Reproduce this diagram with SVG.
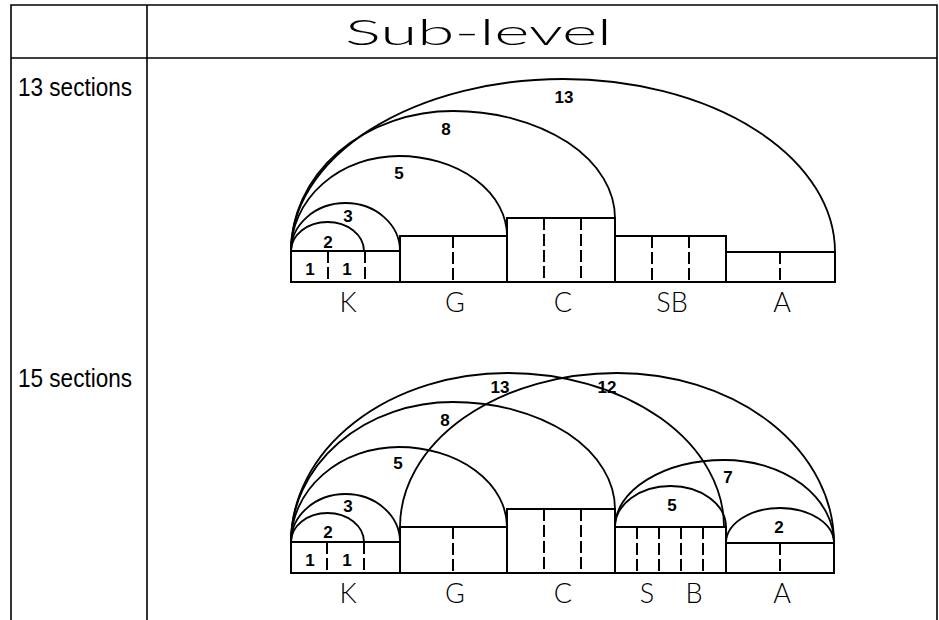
<svg xmlns="http://www.w3.org/2000/svg" width="939" height="620" viewBox="0 0 939 620">
<style>
.tbl{fill:none;stroke:#000;stroke-width:1.6}
.box{fill:none;stroke:#000;stroke-width:2}
.dv{fill:none;stroke:#000;stroke-width:2;stroke-dasharray:12 4}
.arc{fill:none;stroke:#000;stroke-width:1.8}
.num{font-family:"Liberation Sans Narrow","Liberation Sans",Arial,sans-serif;font-weight:bold;font-size:17px;text-anchor:middle;fill:#000}
.lbl{font-family:Lato,"Liberation Sans",sans-serif;font-weight:300;font-size:27px;text-anchor:middle;fill:#000}
.row{font-family:"Liberation Sans",Arial,sans-serif;font-size:25px;fill:#000}
.hdr{font-family:Lato,"Liberation Sans",sans-serif;font-weight:300;font-size:36px;fill:#000}
</style>
<rect width="939" height="620" fill="#fff"/>
<g id="table">
<path class="tbl" d="M11 620 V5 H937 V620 M147 5 V620 M11 58 H937"/>
<text class="hdr" x="345" y="45" textLength="267" lengthAdjust="spacingAndGlyphs">Sub-level</text>
<text class="row" x="18" y="96" textLength="114" lengthAdjust="spacingAndGlyphs">13 sections</text>
<text class="row" x="18" y="387" textLength="114" lengthAdjust="spacingAndGlyphs">15 sections</text>
</g>
<g id="top-boxes">
<g id="t-K"><rect class="box" x="291" y="251" width="109" height="31"/><path class="dv" d="M328 251 V282 M365 251 V282"/><text class="num" x="310" y="275">1</text><text class="num" x="347" y="275">1</text><text class="lbl" x="348" y="312">K</text></g>
<g id="t-G"><rect class="box" x="400" y="236" width="107" height="46"/><path class="dv" d="M453 236 V282"/><text class="lbl" x="455" y="312">G</text></g>
<g id="t-C"><rect class="box" x="507" y="218" width="108" height="64"/><path class="dv" d="M544 218 V282 M581 218 V282"/><text class="lbl" x="563" y="312">C</text></g>
<g id="t-SB"><rect class="box" x="615" y="236" width="111" height="46"/><path class="dv" d="M652 236 V282 M689 236 V282"/><text class="lbl" x="672" y="312">SB</text></g>
<g id="t-A"><rect class="box" x="726" y="252" width="109" height="30"/><path class="dv" d="M780 252 V282"/><text class="lbl" x="782" y="312">A</text></g>
</g>
<g id="top-arcs">
<path class="arc" d="M291 251 A36.5 29 0 0 1 327.5 222 A36.5 29 0 0 1 364 251"/>
<path class="arc" d="M291 251 A54.5 48 0 0 1 345.5 203 A54.5 48 0 0 1 400 251"/>
<path class="arc" d="M291 251 A108 95 0 0 1 399 156 A108 80 0 0 1 507 236"/>
<path class="arc" d="M291 251 A162 140 0 0 1 453 111 A162 107 0 0 1 615 218"/>
<path class="arc" d="M291 251 A272 172 0 0 1 563 79 A272 173 0 0 1 835 252"/>
<text class="num" x="328" y="248">2</text>
<text class="num" x="348" y="222">3</text>
<text class="num" x="399" y="179">5</text>
<text class="num" x="446" y="135">8</text>
<text class="num" x="564" y="103">13</text>
</g>
<g id="bottom-boxes">
<g id="b-K"><rect class="box" x="291" y="542" width="109" height="31"/><path class="dv" d="M327 542 V573 M364 542 V573"/><text class="num" x="310" y="566">1</text><text class="num" x="347" y="566">1</text><text class="lbl" x="348" y="603">K</text></g>
<g id="b-G"><rect class="box" x="400" y="527" width="107" height="46"/><path class="dv" d="M453 527 V573"/><text class="lbl" x="455" y="603">G</text></g>
<g id="b-C"><rect class="box" x="507" y="509" width="108" height="64"/><path class="dv" d="M544 509 V573 M581 509 V573"/><text class="lbl" x="563" y="603">C</text></g>
<g id="b-SB"><rect class="box" x="615" y="527" width="111" height="46"/><path class="dv" d="M637 527 V573 M659 527 V573 M681 527 V573 M703 527 V573"/><text class="lbl" x="647" y="603">S</text><text class="lbl" x="694" y="603">B</text></g>
<g id="b-A"><rect class="box" x="726" y="543" width="108" height="30"/><path class="dv" d="M780 543 V573"/><text class="lbl" x="782" y="603">A</text></g>
</g>
<g id="bottom-arcs">
<path class="arc" d="M291 542 A36.5 29 0 0 1 327.5 513 A36.5 29 0 0 1 364 542"/>
<path class="arc" d="M291 542 A54.5 48 0 0 1 345.5 494 A54.5 48 0 0 1 400 542"/>
<path class="arc" d="M291 542 A108 95 0 0 1 399 447 A108 80 0 0 1 507 527"/>
<path class="arc" d="M291 542 A162 140 0 0 1 453 402 A162 107 0 0 1 615 509"/>
<path class="arc" d="M291 542 A216.5 169 0 0 1 507.5 373 A216.5 154 0 0 1 724 527"/>
<path class="arc" d="M400 527 A217 154 0 0 1 617 373 A217 170 0 0 1 834 543"/>
<path class="arc" d="M615 527 A109.5 67 0 0 1 724.5 460 A109.5 83 0 0 1 834 543"/>
<path class="arc" d="M615 527 A55.5 41 0 0 1 670.5 486 A55.5 41 0 0 1 726 527"/>
<path class="arc" d="M726 543 A54 35 0 0 1 780 508 A54 35 0 0 1 834 543"/>
<text class="num" x="328" y="538">2</text>
<text class="num" x="348" y="512">3</text>
<text class="num" x="398" y="469">5</text>
<text class="num" x="445" y="426">8</text>
<text class="num" x="500" y="393">13</text>
<text class="num" x="607" y="393">12</text>
<text class="num" x="728" y="483">7</text>
<text class="num" x="672" y="511">5</text>
<text class="num" x="779" y="533">2</text>
</g>
</svg>
